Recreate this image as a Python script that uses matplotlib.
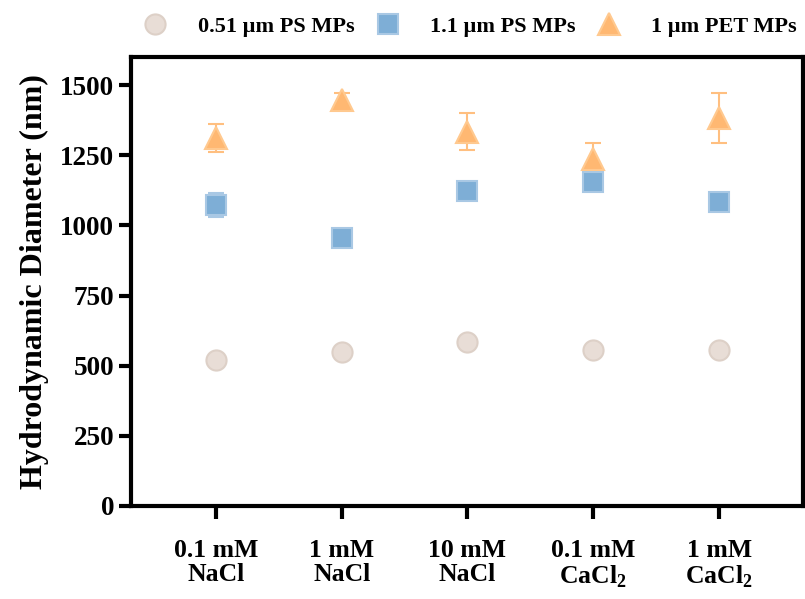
import numpy as np
import matplotlib.pyplot as plt
from matplotlib.lines import Line2D

plt.rcParams['font.family'] = ['Liberation Serif', 'DejaVu Serif']
plt.rcParams['font.weight'] = 'bold'
plt.rcParams['mathtext.fontset'] = 'custom'
plt.rcParams['mathtext.rm'] = 'Liberation Serif:bold'

# Data
categories = ['0.1 mM\nNaCl', '1 mM\nNaCl', '10 mM\nNaCl',
              '0.1 mM\nCaCl$_2$', '1 mM\nCaCl$_2$']
ps051_mean = [521, 550, 585, 557, 557]
ps051_err = [8, 8, 8, 8, 8]
ps11_mean = [1074, 954, 1124, 1156, 1085]
ps11_err = [43, 12, 12, 12, 12]
pet_mean = [1312, 1447, 1333, 1238, 1383]
pet_err = [50, 25, 66, 57, 90]

series = [
    ('0.51 µm PS MPs', ps051_mean, ps051_err, 'o', '#e8ddd6', '#ddd0c7', 14.5),
    ('1.1 µm PS MPs', ps11_mean, ps11_err, 's', '#7eaed6', '#a9c8e4', 14.5),
    ('1 µm PET MPs', pet_mean, pet_err, '^', '#ffb872', '#ffc98f', 16.5),
]

fig = plt.figure(figsize=(8.05, 5.99), dpi=100)
ax = fig.add_axes([0.1627, 0.1553, 0.8348, 0.7495])

x = np.arange(len(categories))
handles = []
for label, mean, err, mk, fc, ec, ms in series:
    ax.errorbar(x, mean, yerr=err, fmt=mk, markersize=ms,
                markerfacecolor=fc, markeredgecolor=ec, markeredgewidth=1.5,
                ecolor=ec if mk != '^' else '#ffbf80', elinewidth=1.5,
                capsize=6, capthick=1.5)
    handles.append(Line2D([], [], linestyle='none', marker=mk, markersize=ms,
                          markerfacecolor=fc, markeredgecolor=ec,
                          markeredgewidth=1.5, label=label))

ax.set_xlim(-0.675, 4.667)
ax.set_ylim(0, 1600)
ax.set_yticks([0, 250, 500, 750, 1000, 1250, 1500])
ax.set_xticks(x)
ax.set_xticklabels(categories, fontsize=18.5, fontweight='bold', linespacing=1.05)
ax.tick_params(axis='y', labelsize=19.5, width=3, length=9, pad=3)
ax.tick_params(axis='x', width=3, length=9, pad=15)
for lab in ax.get_yticklabels():
    lab.set_fontweight('bold')
for sp in ax.spines.values():
    sp.set_linewidth(3)
ax.set_ylabel('Hydrodynamic Diameter (nm)', fontsize=23, fontweight='bold', labelpad=8)

fig.legend(handles=handles, loc='center', bbox_to_anchor=(0.583, 0.955), ncol=3,
           frameon=False, fontsize=16, handletextpad=1.3, columnspacing=0.9,
           handlelength=1.2)
fig.savefig('out.png', dpi=100)
